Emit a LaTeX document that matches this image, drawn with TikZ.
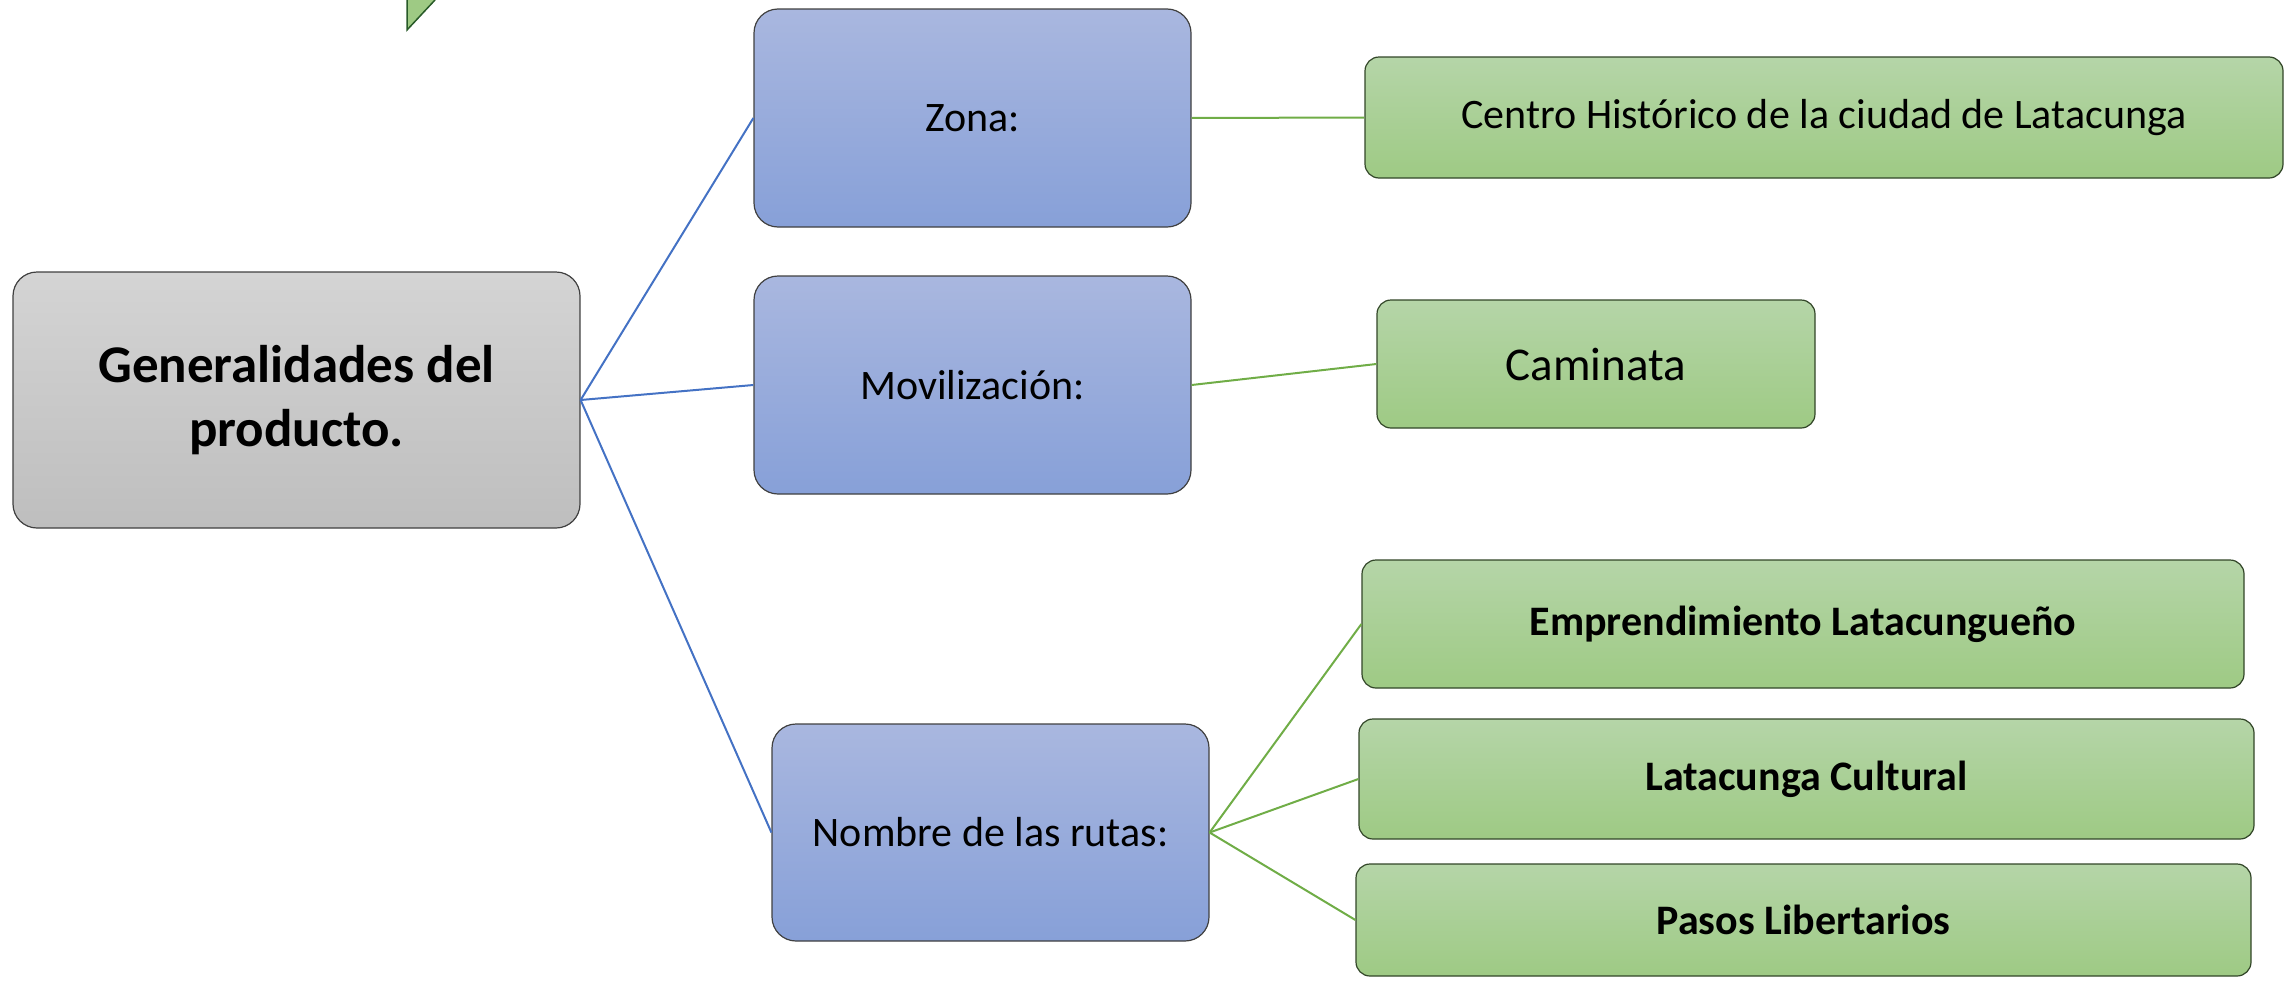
\documentclass[tikz,border=0pt]{standalone}
\usepackage{fontspec}
\setmainfont{Carlito}
\definecolor{bluetop}{RGB}{169,183,223}
\definecolor{bluebot}{RGB}{135,160,216}
\definecolor{greentop}{RGB}{181,213,168}
\definecolor{greenbot}{RGB}{158,202,132}
\definecolor{greenborder}{RGB}{50,70,40}
\definecolor{trigreen}{RGB}{40,90,40}
\definecolor{bluelinec}{RGB}{68,114,196}
\definecolor{greenlinec}{RGB}{112,173,71}
\definecolor{graytop}{RGB}{212,212,212}
\definecolor{graybot}{RGB}{190,190,190}
\begin{document}
\begin{tikzpicture}[x=1pt,y=-1pt,
  box/.style={rectangle, draw=black!75, line width=1.2pt, align=center, inner sep=0pt},
  graybox/.style={box, rounded corners=24pt, top color=graytop, bottom color=graybot},
  bluebox/.style={box, rounded corners=24pt, top color=bluetop, bottom color=bluebot},
  greenbox/.style={box, rounded corners=14pt, draw=greenborder, top color=greentop, bottom color=greenbot},
  blueline/.style={draw=bluelinec, line width=2pt},
  greenline/.style={draw=greenlinec, line width=2pt}
]
\useasboundingbox (0,0) rectangle (2292,980);
% partial triangle at top
\fill[greenbot] (407,0) -- (407,30) -- (435,0) -- cycle;
\draw[trigreen, line width=1.5pt] (407,0) -- (407,30) -- (435,0);

\node[graybox, minimum width=567pt, minimum height=256pt, font=\fontsize{53}{64}\selectfont\bfseries] (root) at (296.5,400) {Generalidades del\\producto.};

\node[bluebox, minimum width=437pt, minimum height=218pt, font=\fontsize{42}{51}\selectfont] (zona) at (972.5,118) {Zona:};
\node[bluebox, minimum width=437pt, minimum height=218pt, font=\fontsize{42}{51}\selectfont] (mov) at (972.5,385) {Movilización:};
\node[bluebox, minimum width=437pt, minimum height=217pt, font=\fontsize{42}{51}\selectfont] (nom) at (990.5,832.5) {Nombre de las rutas:};

\node[greenbox, minimum width=918pt, minimum height=121pt, font=\fontsize{42}{51}\selectfont] (centro) at (1824,117.5) {Centro Histórico de la ciudad de Latacunga};
\node[greenbox, minimum width=438pt, minimum height=128pt, font=\fontsize{47}{57}\selectfont] (cam) at (1596,364) {Caminata};
\node[greenbox, minimum width=882pt, minimum height=128pt, font=\fontsize{42}{51}\selectfont\bfseries] (emp) at (1803,624) {Emprendimiento Latacungueño};
\node[greenbox, minimum width=895pt, minimum height=120pt, font=\fontsize{42}{51}\selectfont\bfseries] (cul) at (1806.5,779) {Latacunga Cultural};
\node[greenbox, minimum width=895pt, minimum height=112pt, font=\fontsize{42}{51}\selectfont\bfseries] (pas) at (1803.5,920) {Pasos Libertarios};

\draw[blueline] (root.east) -- (zona.west);
\draw[blueline] (root.east) -- (mov.west);
\draw[blueline] (root.east) -- (nom.west);
\draw[greenline] (zona.east) -- (centro.west);
\draw[greenline] (mov.east) -- (cam.west);
\draw[greenline] (nom.east) -- (emp.west);
\draw[greenline] (nom.east) -- (cul.west);
\draw[greenline] (nom.east) -- (pas.west);
\end{tikzpicture}
\end{document}
